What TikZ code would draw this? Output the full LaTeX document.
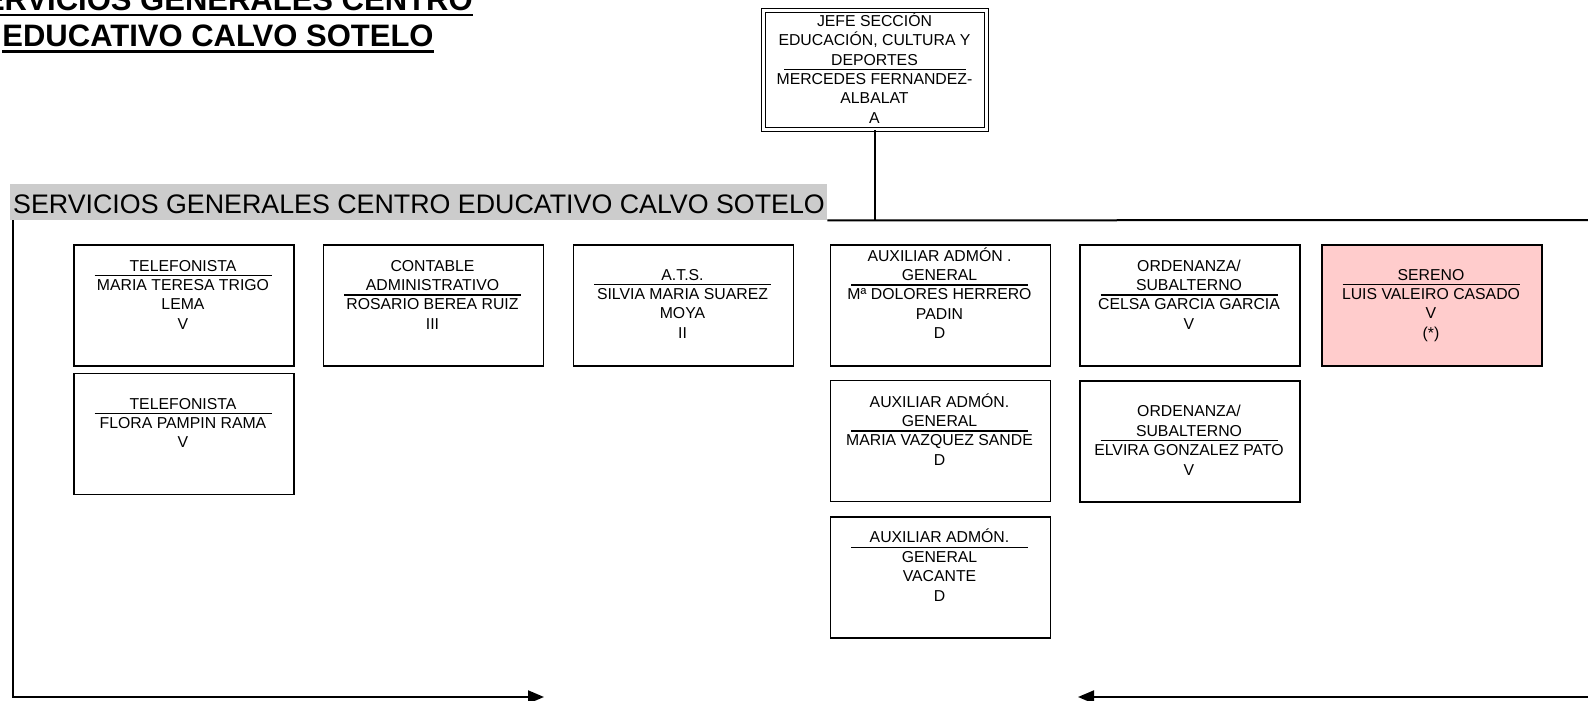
\documentclass[tikz,border=0pt]{standalone}
\usepackage{fontspec}
\setmainfont{Liberation Sans}
\usetikzlibrary{arrows.meta}
\definecolor{hdrgray}{HTML}{CCCCCC}
\definecolor{pinkfill}{HTML}{FFCCCC}
\newcommand\bt[1]{\vtop{\hsize=216pt\centering\fontsize{15.8}{19.45}\selectfont #1\par}}
\newcommand\ulx[1]{\leavevmode\setbox0=\hbox{#1}\rlap{\rule[-6pt]{\wd0}{2.7pt}}\box0}
\tikzset{
  box/.style={draw, line width=1.7pt, inner sep=0, minimum width=220pt, minimum height=121pt, anchor=north west},
  txt/.style={inner sep=0, anchor=base},
  sepl/.style={line width=1.4pt},
  conn/.style={line width=2pt},
  tipr/.style={-{Triangle[length=16pt,width=13pt]}}
}
\begin{document}
\begin{tikzpicture}[x=1pt,y=-1pt]
\useasboundingbox (0,0) rectangle (1588,701);

% title
\node[txt] (title) at (218,10.5) {\vtop{\hsize=700pt\centering\fontsize{31}{36.5}\selectfont\bfseries
  \ulx{SERVICIOS GENERALES CENTRO}\\\ulx{EDUCATIVO CALVO SOTELO}\par}};

% top box
\node[draw, double, double distance=2.9pt, line width=1.2pt, inner sep=0, minimum width=223pt, minimum height=119pt, anchor=north west] (jefe) at (763,10) {};
\node[txt] (jefet) at (874.5,26.2) {\bt{JEFE SECCIÓN\\EDUCACIÓN, CULTURA Y\\DEPORTES\\MERCEDES FERNANDEZ-\\ALBALAT\\A}};
\draw[sepl] (784,69.8) -- (966,69.8);

% header bar
\node[fill=hdrgray, inner sep=0, minimum width=817pt, minimum height=36pt, anchor=north west] (hdr) at (10,184) {};
\node[txt, anchor=base west] (hdrt) at (13,213) {\fontsize{26.8}{32}\selectfont SERVICIOS GENERALES CENTRO EDUCATIVO CALVO SOTELO};

% boxes
\node[box] (tel1) at (73,244) {};
\node[box] (tel2) at (73,372.7) {};
\node[box] (cont) at (322.5,244) {};
\node[box] (ats) at (572.5,244) {};
\node[box] (aux1) at (829.5,244) {};
\node[box] (aux2) at (829.5,379.5) {};
\node[box] (aux3) at (829.5,516) {};
\node[box] (ord1) at (1079,244) {};
\node[box] (ord2) at (1079,380) {};
\node[box, fill=pinkfill] (ser) at (1321,244) {};

\node[txt] (tel1t) at (183,271) {\bt{TELEFONISTA\\MARIA TERESA TRIGO\\LEMA\\V}};
\draw[sepl] (94.5,275.5) -- ++(177,0);
\node[txt] (tel2t) at (183,409) {\bt{TELEFONISTA\\FLORA PAMPIN RAMA\\V}};
\draw[sepl] (94.5,413.5) -- ++(177,0);
\node[txt] (contt) at (432.5,271) {\bt{CONTABLE\\ADMINISTRATIVO\\ROSARIO BEREA RUIZ\\III}};
\draw[sepl] (344,295) -- ++(177,0);
\node[txt] (atst) at (682.5,280) {\bt{A.T.S.\\SILVIA MARIA SUAREZ\\MOYA\\II}};
\draw[sepl] (594,284.5) -- ++(177,0);
\node[txt] (aux1t) at (939.5,261) {\bt{AUXILIAR ADMÓN .\\GENERAL\\Mª DOLORES HERRERO\\PADIN\\D}};
\draw[sepl] (851,285) -- ++(177,0);
\node[txt] (aux2t) at (939.5,407) {\bt{AUXILIAR ADMÓN.\\GENERAL\\MARIA VAZQUEZ SANDE\\D}};
\draw[sepl] (851,431) -- ++(177,0);
\node[txt] (aux3t) at (939.5,542.7) {\bt{AUXILIAR ADMÓN.\\GENERAL\\VACANTE\\D}};
\draw[sepl] (851,547.2) -- ++(177,0);
\node[txt] (ord1t) at (1189,271) {\bt{ORDENANZA/\\SUBALTERNO\\CELSA GARCIA GARCIA\\V}};
\draw[sepl] (1100.5,295) -- ++(177,0);
\node[txt] (ord2t) at (1189,416.7) {\bt{ORDENANZA/\\SUBALTERNO\\ELVIRA GONZALEZ PATO\\V}};
\draw[sepl] (1100.5,440.7) -- ++(177,0);
\node[txt] (sert) at (1431,280) {\bt{SERENO\\LUIS VALEIRO CASADO\\V\\(*)}};
\draw[sepl] (1342.5,284.5) -- ++(177,0);

% connectors
\coordinate (rEnd) at (1592,220);
\draw[conn] (hdr.south east) -- (rEnd);
\draw[conn] (jefe.south) -- (jefe.south |- hdr.south);
\coordinate (lTop) at (13,220);
\coordinate (lBot) at (13,697);
\coordinate (lTip) at (544,697);
\draw[conn, tipr] (lTop) -- (lBot) -- (lTip);
\coordinate (rStart) at (1592,697);
\coordinate (rTip) at (1078,697);
\draw[conn, tipr] (rStart) -- (rTip);
\end{tikzpicture}
\end{document}
